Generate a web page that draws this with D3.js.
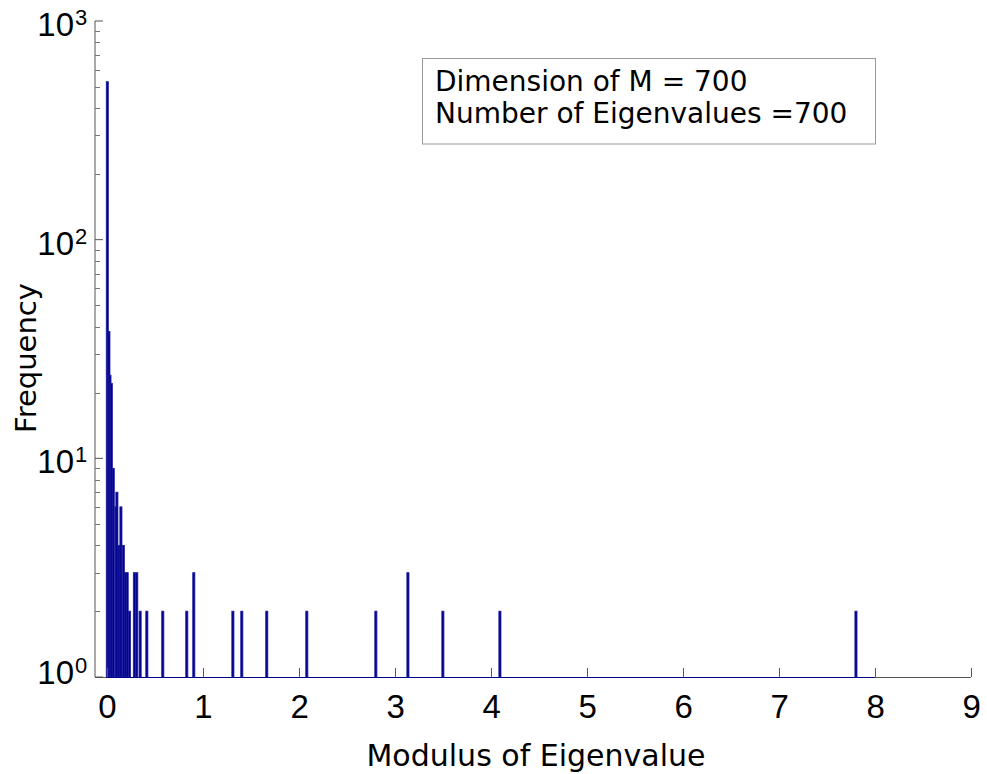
<!DOCTYPE html>
<html>
<head>
<meta charset="utf-8">
<script src="https://cdn.jsdelivr.net/npm/d3@7/dist/d3.min.js"></script>
<style>
  body { margin: 0; background: #fff; }
  svg { display: block; }
</style>
</head>
<body>
<svg id="chart" width="987" height="774"></svg>
<script>
// histogram bins (centre of bin, count)
const binCenters = [0.008, 0.025, 0.036, 0.050, 0.070, 0.098, 0.108, 0.130, 0.150, 0.175,
  0.195, 0.215, 0.240, 0.290, 0.315, 0.350, 0.420, 0.586, 0.836, 0.909,
  1.316, 1.409, 1.669, 2.086, 2.805, 3.139, 3.503, 4.097, 7.805];
const binCounts = [528, 38, 24, 22, 9, 6, 7, 4, 6, 4,
  3, 3, 2, 3, 3, 2, 2, 2, 2, 3,
  2, 2, 2, 2, 2, 3, 2, 2, 2];
const binWidth = 0.022;

const xTicks = [0, 1, 2, 3, 4, 5, 6, 7, 8, 9];
const yMajor = [1, 10, 100, 1000];
const legendLines = ["Dimension of M = 700", "Number of Eigenvalues =700"];

const svg = d3.select("#chart");
const barColor = "#00008b";

const x = d3.scaleLinear().domain([-0.12, 9]).range([95, 970.7]);
const y = d3.scaleLog().domain([1, 1000]).range([677, 21]);

// bars
svg.append("g")
  .selectAll("rect")
  .data(binCenters.map((c, i) => ({ c, n: binCounts[i] })))
  .enter()
  .append("rect")
  .attr("x", d => x(d.c - binWidth / 2))
  .attr("width", d => x(d.c + binWidth / 2) - x(d.c - binWidth / 2))
  .attr("y", d => y(d.n))
  .attr("height", d => y(1) - y(d.n))
  .attr("fill", barColor)
  .attr("stroke", "#1e1ea0")
  .attr("stroke-width", 0.8);

// y axis (ticks inside)
const yMinor = [];
for (let k = 0; k < 3; k++) {
  for (let m = 2; m <= 9; m++) yMinor.push(m * Math.pow(10, k));
}

const axisColor = "#555";
svg.append("line")
  .attr("x1", x.range()[0]).attr("x2", x.range()[0])
  .attr("y1", y(1000)).attr("y2", y(1))
  .attr("stroke", axisColor).attr("stroke-width", 1);

svg.append("g")
  .selectAll("line")
  .data(yMajor)
  .enter()
  .append("line")
  .attr("x1", 95).attr("x2", 103)
  .attr("y1", d => y(d)).attr("y2", d => y(d))
  .attr("stroke", axisColor);

svg.append("g")
  .selectAll("line")
  .data(yMinor)
  .enter()
  .append("line")
  .attr("x1", 95).attr("x2", 100)
  .attr("y1", d => Math.round(y(d)) + 0.5).attr("y2", d => Math.round(y(d)) + 0.5)
  .attr("stroke", "#777");

const yLab = svg.append("g")
  .selectAll("g")
  .data(yMajor)
  .enter()
  .append("g")
  .attr("font-family", "Liberation Sans, Arial, sans-serif")
  .attr("fill", "#000");

const labBase = d => Math.min(y(d) + 15, 684);

yLab.append("text")
  .attr("x", 74)
  .attr("y", labBase)
  .attr("text-anchor", "end")
  .attr("font-size", 33)
  .text("10");

yLab.append("text")
  .attr("x", 75)
  .attr("y", d => labBase(d) - 11)
  .attr("font-size", 22)
  .text(d => Math.round(Math.log10(d)));

// x axis
svg.append("line")
  .attr("x1", x.range()[0]).attr("x2", x.range()[1])
  .attr("y1", 677.5).attr("y2", 677.5)
  .attr("stroke", axisColor);

svg.append("line")
  .attr("x1", x(0)).attr("x2", x(8))
  .attr("y1", 677.5).attr("y2", 677.5)
  .attr("stroke", barColor).attr("stroke-width", 1.2);

svg.append("g")
  .selectAll("line")
  .data(xTicks)
  .enter()
  .append("line")
  .attr("x1", d => Math.round(x(d)) + 0.5).attr("x2", d => Math.round(x(d)) + 0.5)
  .attr("y1", 677).attr("y2", 668)
  .attr("stroke", axisColor);

svg.append("g")
  .selectAll("text")
  .data(xTicks)
  .enter()
  .append("text")
  .attr("x", d => x(d) + 1)
  .attr("y", 718)
  .attr("text-anchor", "middle")
  .attr("font-family", "Liberation Sans, Arial, sans-serif")
  .attr("font-size", 33)
  .text(d => d);

// axis titles
svg.append("text")
  .attr("x", 536)
  .attr("y", 766)
  .attr("text-anchor", "middle")
  .attr("font-family", "DejaVu Sans, sans-serif")
  .attr("font-size", 30)
  .text("Modulus of Eigenvalue");

svg.append("text")
  .attr("transform", "translate(36,358) rotate(-90)")
  .attr("text-anchor", "middle")
  .attr("font-family", "DejaVu Sans, sans-serif")
  .attr("font-size", 29)
  .text("Frequency");

// annotation box
svg.append("rect")
  .attr("x", 422.5).attr("y", 58.5)
  .attr("width", 453).attr("height", 85.5)
  .attr("fill", "#fff")
  .attr("stroke", "#999");

svg.append("g")
  .selectAll("text")
  .data(legendLines)
  .enter()
  .append("text")
  .attr("x", 435)
  .attr("y", (d, i) => 91 + i * 32)
  .attr("font-family", "DejaVu Sans, sans-serif")
  .attr("font-size", 28)
  .text(d => d);
</script>
</body>
</html>
